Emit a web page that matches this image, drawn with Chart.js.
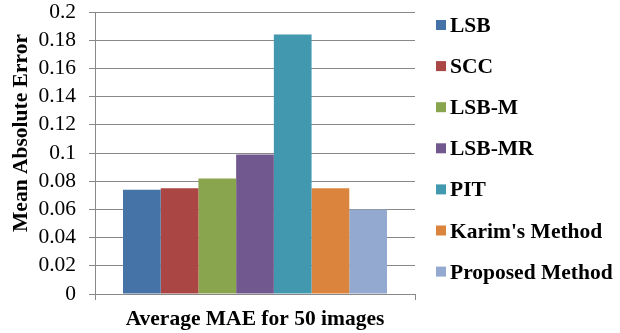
<!DOCTYPE html>
<html>
<head>
<meta charset="utf-8">
<script src="https://cdn.jsdelivr.net/npm/chart.js@4.4.1/dist/chart.umd.min.js"></script>
<style>
  html, body { margin: 0; padding: 0; background: #ffffff; }
  canvas { display: block; }
</style>
</head>
<body>
<canvas id="maeChart" width="620" height="333"></canvas>
<script>
// Data
const categories = ['Average MAE for 50 images'];
const methods = ['LSB', 'SCC', 'LSB-M', 'LSB-MR', 'PIT', "Karim's Method", 'Proposed Method'];
const maeValues = [0.074, 0.075, 0.082, 0.099, 0.184, 0.075, 0.060];
const yTickLabels = ['0', '0.02', '0.04', '0.06', '0.08', '0.1', '0.12', '0.14', '0.16', '0.18', '0.2'];
const yAxisTitle = 'Mean Absolute Error';
const methodColors = ['#4572A7', '#AA4643', '#89A54E', '#71588F', '#4198AF', '#DB843D', '#93A9CF'];

const FONT = "'Liberation Serif', 'Times New Roman', serif";
const AXIS_GREY = '#888888';

// Right-hand legend plus the rotated value-axis title
const sideLegend = {
  id: 'sideLegend',
  afterDraw(chart, args, opts) {
    const ctx = chart.ctx;
    ctx.save();
    ctx.font = 'bold 21.5px ' + FONT;
    ctx.textBaseline = 'alphabetic';
    ctx.textAlign = 'left';
    chart.data.datasets.forEach((ds, i) => {
      const cy = opts.firstRow + i * opts.rowGap;
      ctx.fillStyle = ds.backgroundColor;
      ctx.fillRect(opts.boxX, cy - 5, opts.boxSize, opts.boxSize);
      ctx.fillStyle = '#000000';
      ctx.fillText(ds.label, opts.textX, cy + 7);
    });

    // value-axis title, rotated
    ctx.translate(opts.titleX, opts.titleY);
    ctx.rotate(-Math.PI / 2);
    ctx.textAlign = 'center';
    ctx.textBaseline = 'middle';
    ctx.fillText(yAxisTitle, 0, 0);
    ctx.restore();
  }
};

const datasets = methods.map((name, i) => ({
  label: name,
  data: [maeValues[i]],
  backgroundColor: methodColors[i],
  borderWidth: 0,
  categoryPercentage: 0.825,
  barPercentage: 1.0
}));

new Chart(document.getElementById('maeChart'), {
  type: 'bar',
  data: { labels: categories, datasets },
  plugins: [sideLegend],
  options: {
    responsive: false,
    animation: false,
    devicePixelRatio: 1,
    layout: { padding: { top: 12, right: 205, left: 0, bottom: 0 } },
    plugins: {
      legend: { display: false },
      tooltip: { enabled: false },
      sideLegend: {
        firstRow: 25, rowGap: 41.1, boxX: 436, boxSize: 10, textX: 450,
        titleX: 21, titleY: 133
      }
    },
    scales: {
      x: {
        afterFit(scale) { scale.height = 39; },
        grid: {
          drawOnChartArea: false,
          drawTicks: true,
          tickLength: 6,
          color: AXIS_GREY,
          offset: true
        },
        border: { display: true, color: AXIS_GREY, width: 1 },
        ticks: {
          color: '#000000',
          padding: 9,
          font: { family: FONT, size: 21.5, weight: 'bold', lineHeight: 1 }
        }
      },
      y: {
        min: 0,
        max: 0.2,
        afterFit(scale) {
          scale.width = 95;
          scale.paddingTop = 0;
          scale.paddingBottom = 0;
        },
        afterBuildTicks(scale) {
          scale.ticks = yTickLabels.map(t => ({ value: parseFloat(t) }));
        },
        grid: {
          color: AXIS_GREY,
          lineWidth: 1,
          drawTicks: true,
          tickLength: 6
        },
        border: { display: true, color: AXIS_GREY, width: 1 },
        ticks: {
          color: '#000000',
          padding: 13,
          font: { family: FONT, size: 21.5, lineHeight: 1 },
          callback: (v, i) => yTickLabels[i]
        },
        title: { display: false }
      }
    }
  }
});
</script>
</body>
</html>
